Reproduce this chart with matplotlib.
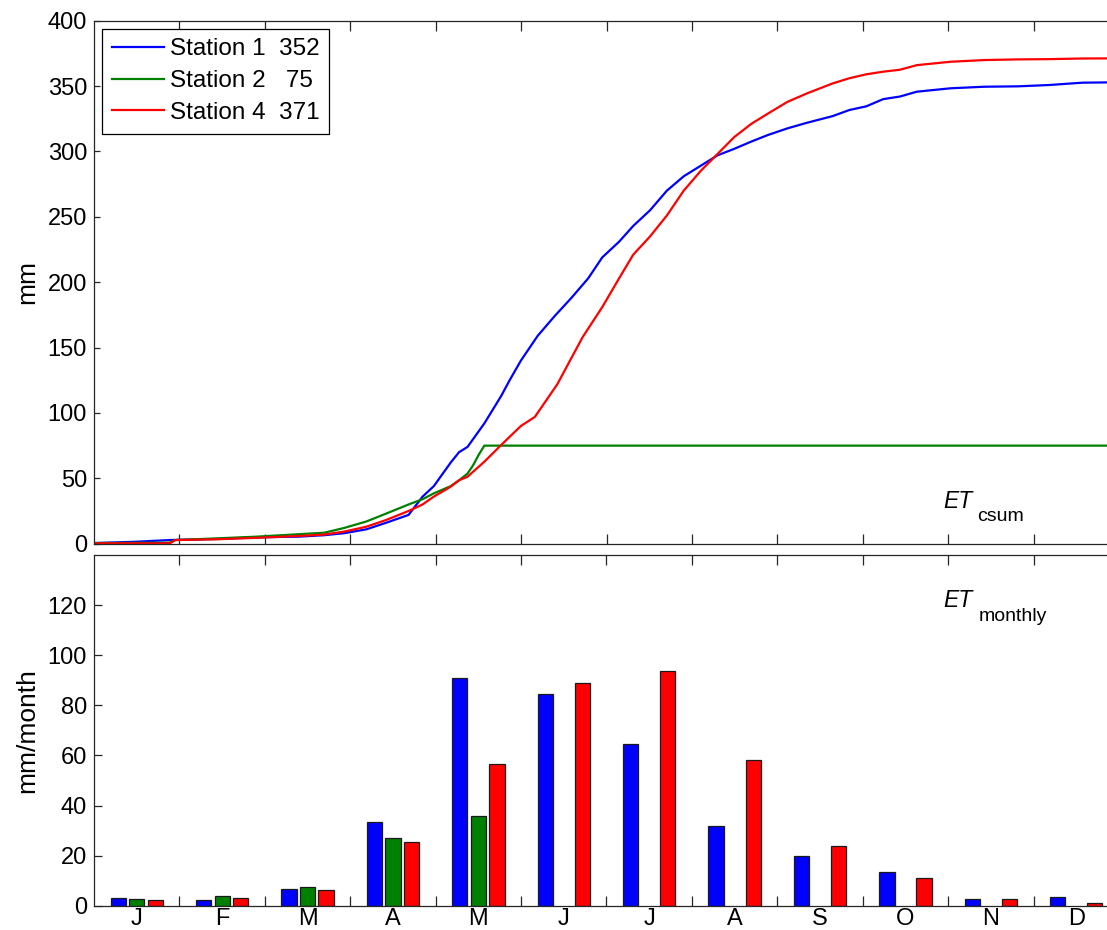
import matplotlib
matplotlib.use('Agg')
import matplotlib.pyplot as plt
import numpy as np

plt.rcParams['font.family'] = ['Liberation Sans', 'DejaVu Sans']

# ---------------- data ----------------
months = ['J', 'F', 'M', 'A', 'M', 'J', 'J', 'A', 'S', 'O', 'N', 'D']
station_labels = ['Station 1  352', 'Station 2   75', 'Station 4  371']
station_colors = ['#0000ff', '#008000', '#ff0000']

# cumulative ET (mm), day of year
s1_day = [0, 15, 27, 44, 58, 73, 82, 89, 97, 104, 112, 117, 121, 127, 130, 133, 136, 139,
          145, 148, 152, 158, 164, 170, 176, 181, 187, 192, 198, 204, 210, 216, 222, 228,
          234, 240, 247, 254, 263, 269, 275, 281, 287, 293, 305, 317, 329, 340, 352, 365]
s1_cum = [0.5, 1.5, 2.8, 3.6, 4.9, 5.4, 6.5, 8, 11, 16, 22, 36, 44, 62, 70, 74, 83, 92,
          113, 125, 140, 159, 174, 188, 203, 219, 231, 243, 255, 270, 281, 289, 297, 302,
          307.5, 312.6, 317.7, 322, 327, 331.7, 334.5, 340, 342, 345.7, 348.3, 349.5, 349.8,
          350.8, 352.6, 352.9]

s2_day = [0, 27, 29, 44, 58, 82, 89, 97, 104, 112, 117, 121, 127, 130, 133, 135, 137, 139, 365]
s2_cum = [0.5, 0.8, 2.8, 4.1, 5.4, 8.4, 12, 17, 23, 30, 34, 38.5, 44, 48.5, 53.6, 60, 68, 75, 75]

s4_day = [0, 27, 29, 44, 58, 73, 82, 89, 97, 104, 112, 117, 121, 127, 130, 133, 139, 145,
          152, 157, 165, 174, 181, 187, 192, 198, 204, 210, 216, 222, 228, 234, 240, 247,
          254, 263, 269, 275, 281, 287, 293, 305, 317, 329, 340, 352, 365]
s4_cum = [0.3, 0.3, 2.8, 3.4, 4.5, 5.9, 7, 9.2, 13, 18.1, 25, 30, 36, 43.6, 48.5, 51.2, 62.7,
          75.5, 90, 97, 122, 158, 181, 203, 221, 235, 251, 270, 285, 298, 311, 321, 329, 338,
          344.5, 352, 356, 359, 361, 362.5, 366, 368.6, 369.9, 370.4, 370.6, 371.1, 371.2]

# monthly ET (mm/month)
s1_month = [3.2, 2.3, 6.8, 33.3, 90.9, 84.4, 64.4, 31.8, 19.8, 13.6, 2.7, 3.3]
s2_month = [2.7, 3.7, 7.3, 27.1, 35.9, 0, 0, 0, 0, 0, 0, 0]
s4_month = [2.3, 3.2, 6.3, 25.5, 56.7, 88.9, 93.5, 58.3, 23.9, 11.2, 2.7, 1.1]

# ---------------- figure ----------------
W, H = 1107, 930
fig = plt.figure(figsize=(W / 100, H / 100), dpi=100)

left_px, right_px = 94, 1119
ax1 = fig.add_axes([left_px / W, (H - 543.7) / H, (right_px - left_px) / W, (543.7 - 20.7) / H])
ax2 = fig.add_axes([left_px / W, (H - 905.7) / H, (right_px - left_px) / W, (905.7 - 555) / H])

spine_col = '#262626'
tick_fs = 17
label_fs = 19

for ax in (ax1, ax2):
    for sp in ax.spines.values():
        sp.set_linewidth(0.9)
        sp.set_color(spine_col)

# ---- top panel
for d, c, col, lab in zip([s1_day, s2_day, s4_day], [s1_cum, s2_cum, s4_cum],
                          station_colors, station_labels):
    ax1.plot(d, c, color=col, lw=1.6, label=lab)

ax1.set_xlim(0, 365)
ax1.set_ylim(0, 400)
ax1.set_yticks(np.arange(0, 401, 50))
ax1.set_xticks([365 / 12 * k for k in range(1, 12)])
ax1.set_xticklabels([])
ax1.tick_params(axis='x', direction='in', top=True, bottom=True, length=7.5, width=0.9,
                color=spine_col)
ax1.tick_params(axis='y', direction='in', left=True, right=True, length=4, width=0.9,
                color=spine_col, labelsize=tick_fs, pad=5)
ax1.set_ylabel('mm', fontsize=label_fs, labelpad=6)

leg = ax1.legend(loc='upper left', fontsize=17.5, frameon=True, fancybox=False,
                 framealpha=1, edgecolor='black', borderaxespad=0.33, handlelength=2.15,
                 handletextpad=0.25, labelspacing=0.4, borderpad=0.4)
leg.get_frame().set_linewidth(0.9)

ax1.text(302.3, 27.3, 'ET', fontsize=16.5, fontstyle='italic', ha='left', va='baseline')
ax1.text(314.5, 17.4, 'csum', fontsize=14, ha='left', va='baseline')

# ---- bottom panel
x = np.arange(1, 13)
off = 0.217
bw = 0.178
for vals, dx, col in zip([s1_month, s2_month, s4_month], [-off, 0, off], station_colors):
    vals = np.asarray(vals, float)
    m = vals > 0
    ax2.bar(x[m] + dx, vals[m], width=bw, color=col, edgecolor='#1a1a1a', linewidth=0.9)

ax2.set_xlim(0.5, 12.5)
ax2.set_ylim(0, 140)
ax2.set_yticks(np.arange(0, 121, 20))
ax2.set_xticks(np.arange(1.5, 12, 1))
ax2.set_xticklabels([])
ax2.set_xticks(x, minor=True)
ax2.set_xticklabels(months, minor=True)
ax2.tick_params(axis='x', which='major', direction='in', top=True, bottom=True, length=7.5,
                width=0.9, color=spine_col)
ax2.tick_params(axis='x', which='minor', length=0, labelsize=tick_fs, pad=1.5)
ax2.tick_params(axis='y', direction='in', left=True, right=True, length=6, width=0.9,
                color=spine_col, labelsize=tick_fs, pad=5)
ax2.set_ylabel('mm/month', fontsize=label_fs, labelpad=6)

ax2.text(10.44, 119.3, 'ET', fontsize=16.5, fontstyle='italic', ha='left', va='baseline')
ax2.text(10.855, 113.7, 'monthly', fontsize=14, ha='left', va='baseline')

fig.savefig('out.png', dpi=100)
